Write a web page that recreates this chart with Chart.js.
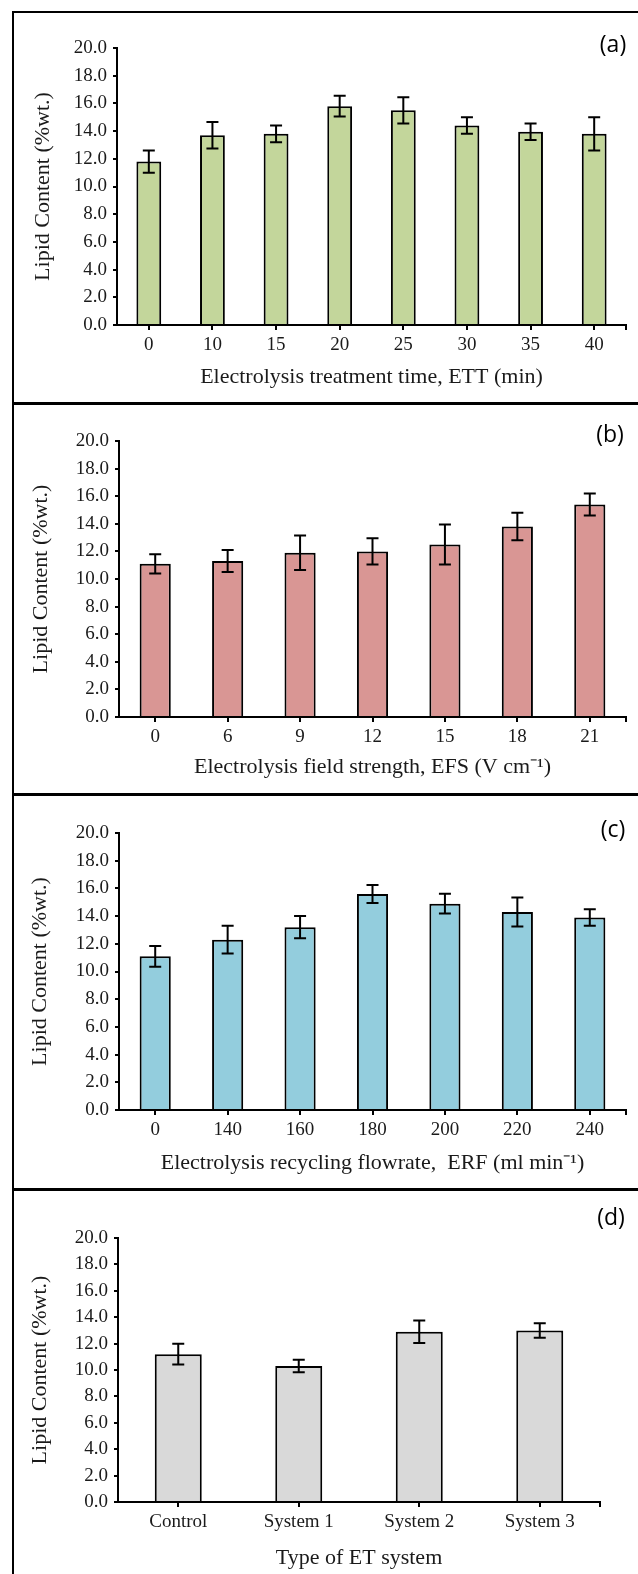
<!DOCTYPE html>
<html><head><meta charset="utf-8">
<script src="https://cdn.jsdelivr.net/npm/chart.js@4.4.1/dist/chart.umd.min.js"></script>
<style>
html,body{margin:0;padding:0;background:#fff;}
body{width:638px;height:1574px;position:relative;overflow:hidden;}
.line{position:absolute;background:#000;}
canvas{position:absolute;left:0;}
.tag{position:absolute;font-family:"Open Sans",sans-serif;font-size:23px;color:#000;transform:translate(-50%,-50%);line-height:1;}
</style></head><body>
<div class="line" style="left:12px;top:11px;width:640px;height:2px"></div>
<div class="line" style="left:12px;top:402px;width:640px;height:3px"></div>
<div class="line" style="left:12px;top:793px;width:640px;height:3px"></div>
<div class="line" style="left:12px;top:1188px;width:640px;height:3px"></div>
<div class="line" style="left:12px;top:11px;width:2px;height:1570px"></div>
<canvas id="ca" width="638" height="393" style="top:12px"></canvas>
<canvas id="cb" width="638" height="390" style="top:405px"></canvas>
<canvas id="cc" width="638" height="395" style="top:795px"></canvas>
<canvas id="cd" width="638" height="384" style="top:1190px"></canvas>
<div class="tag" style="left:613px;top:43px">(a)</div>
<div class="tag" style="left:610px;top:433px">(b)</div>
<div class="tag" style="left:613px;top:828px">(c)</div>
<div class="tag" style="left:611px;top:1216px">(d)</div>
<script>
// ---- data ----
const ettLabels = ['0','10','15','20','25','30','35','40'];
const ettMeans  = [11.8, 13.7, 13.8, 15.8, 15.5, 14.4, 13.95, 13.8];
const ettErrors = [0.8, 0.95, 0.6, 0.75, 0.95, 0.6, 0.6, 1.2];

const efsLabels = ['0','6','9','12','15','18','21'];
const efsMeans  = [11.1, 11.3, 11.9, 12.0, 12.5, 13.8, 15.4];
const efsErrors = [0.7, 0.8, 1.25, 0.95, 1.45, 1.0, 0.8];

const erfLabels = ['0','140','160','180','200','220','240'];
const erfMeans  = [11.1, 12.3, 13.2, 15.6, 14.9, 14.3, 13.9];
const erfErrors = [0.75, 1.0, 0.8, 0.65, 0.72, 1.05, 0.6];

const etLabels = ['Control','System 1','System 2','System 3'];
const etMeans  = [11.2, 10.3, 12.9, 13.0];
const etErrors = [0.78, 0.47, 0.85, 0.55];

const yMin = 0, yMax = 20, yStep = 2;
const yTitle = 'Lipid Content (%wt.)';

// ---- plugins ----
const errorBars = {
  id: 'errorBars',
  afterDatasetsDraw(chart, args, opts) {
    const errs = opts.errors; if (!errs) return;
    const meta = chart.getDatasetMeta(0), y = chart.scales.y, ctx = chart.ctx;
    const vals = chart.data.datasets[0].data;
    ctx.save(); ctx.strokeStyle = '#000'; ctx.lineWidth = 2;
    meta.data.forEach((bar, i) => {
      const v = vals[i], e = errs[i];
      const yt = y.getPixelForValue(v + e), yb = y.getPixelForValue(v - e), x = bar.x, c = opts.cap;
      ctx.beginPath();
      ctx.moveTo(x, yt); ctx.lineTo(x, yb);
      ctx.moveTo(x - c, yt); ctx.lineTo(x + c, yt);
      ctx.moveTo(x - c, yb); ctx.lineTo(x + c, yb);
      ctx.stroke();
    });
    ctx.restore();
  }
};
const endTick = {
  id: 'endTick',
  afterDraw(chart) {
    const x = chart.scales.x, ctx = chart.ctx;
    ctx.save(); ctx.strokeStyle = '#000'; ctx.lineWidth = 2;
    ctx.beginPath(); ctx.moveTo(x.right, x.top); ctx.lineTo(x.right, x.top + 5); ctx.stroke();
    ctx.restore();
  }
};

function make(id, labels, means, errors, color, xTitle, g) {
  new Chart(document.getElementById(id), {
    type: 'bar',
    data: { labels: labels, datasets: [{ data: means, backgroundColor: color, borderColor: '#000', borderWidth: 2,
      barPercentage: g.bp, categoryPercentage: 1 }] },
    options: {
      responsive: false, animation: false,
      layout: { padding: { top: g.pt, bottom: g.pb, left: 0, right: g.pr } },
      plugins: { legend: { display: false }, tooltip: { enabled: false }, errorBars: { errors: errors, cap: 6 } },
      scales: {
        x: {
          ticks: { font: { family: 'Liberation Serif', size: 19 }, color: '#1a1a1a', padding: 4, maxRotation: 0, autoSkip: false },
          grid: { offset: false, drawOnChartArea: false, tickLength: 5, color: '#000', lineWidth: 2 },
          border: { color: '#000', width: 2 },
          title: { display: true, text: xTitle, font: { family: 'Liberation Serif', size: 22 }, color: '#1a1a1a', padding: 0 },
          afterFit: s => { s.height = g.xh; }
        },
        y: {
          min: yMin, max: yMax,
          ticks: { stepSize: yStep, callback: v => v.toFixed(1), font: { family: 'Liberation Serif', size: 19 }, color: '#1a1a1a', padding: 6 },
          grid: { drawOnChartArea: false, tickLength: 4, color: '#000', lineWidth: 2 },
          border: { color: '#000', width: 2 },
          title: { display: true, text: yTitle, font: { family: 'Liberation Serif', size: 22 }, color: '#1a1a1a', padding: { top: g.yt, bottom: 0 } },
          afterFit: s => { s.width = g.yw; }
        }
      }
    },
    plugins: [errorBars, endTick]
  });
}

make('ca', ettLabels, ettMeans, ettErrors, '#c3d69b', 'Electrolysis treatment time, ETT (min)',
  { bp: 0.39, pt: 36, pb: 15, pr: 12, xh: 65, yw: 117, yt: 30 });
make('cb', efsLabels, efsMeans, efsErrors, '#d99694', 'Electrolysis field strength, EFS (V cm\u207B\u00B9)',
  { bp: 0.43, pt: 36, pb: 15, pr: 12, xh: 63, yw: 119, yt: 28 });
make('cc', erfLabels, erfMeans, erfErrors, '#93cddd', 'Electrolysis recycling flowrate,  ERF (ml min\u207B\u00B9)',
  { bp: 0.43, pt: 38, pb: 14, pr: 12, xh: 66, yw: 119, yt: 27 });
make('cd', etLabels, etMeans, etErrors, '#d9d9d9', 'Type of ET system',
  { bp: 0.39, pt: 48, pb: 3, pr: 38, xh: 69, yw: 118, yt: 27 });
</script>
</body></html>
